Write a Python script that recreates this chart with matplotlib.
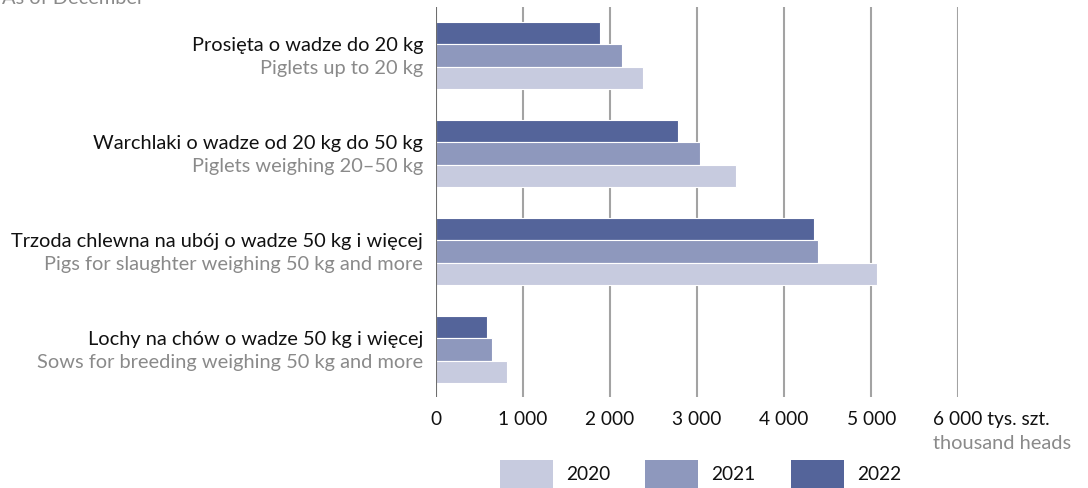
import numpy as np
import matplotlib
matplotlib.use('Agg')
import matplotlib.pyplot as plt
from matplotlib.patches import Rectangle

plt.rcParams['font.family'] = ['Lato', 'DejaVu Sans']

# data (thousand heads)
labels_pl = ['Prosięta o wadze do 20 kg',
             'Warchlaki o wadze od 20 kg do 50 kg',
             'Trzoda chlewna na ubój o wadze 50 kg i więcej',
             'Lochy na chów o wadze 50 kg i więcej']
labels_en = ['Piglets up to 20 kg',
             'Piglets weighing 20–50 kg',
             'Pigs for slaughter weighing 50 kg and more',
             'Sows for breeding weighing 50 kg and more']
years = ['2020', '2021', '2022']
v2020 = [2376, 3444, 5072, 815]
v2021 = [2143, 3038, 4386, 650]
v2022 = [1890, 2785, 4340, 590]
ticks = [0, 1000, 2000, 3000, 4000, 5000, 6000]
tick_labels = ['0', '1 000', '2 000', '3 000', '4 000', '5 000', '6 000']

colors = {'2020': '#c7cbdf', '2021': '#8e98bd', '2022': '#54649a'}

W, H = 1088, 489
fig = plt.figure(figsize=(W/100, H/100), dpi=100)
ax = fig.add_axes([435.7/W, 1-398/H, 522.6/W, 390/H])

y = np.arange(len(labels_pl))
h = 0.228
ax.barh(y - h, v2022, height=h, color=colors['2022'], edgecolor='white', linewidth=0.8, zorder=3)
ax.barh(y, v2021, height=h, color=colors['2021'], edgecolor='white', linewidth=0.8, zorder=3)
ax.barh(y + h, v2020, height=h, color=colors['2020'], edgecolor='white', linewidth=0.8, zorder=3)

ax.set_xlim(0, 6000)
ax.set_ylim(3.485, -0.495)
for s in ['top', 'right', 'bottom', 'left']:
    ax.spines[s].set_visible(False)
for t in ticks[1:]:
    ax.axvline(t, color='#a3a3a3', lw=1.5, zorder=1)
ax.axvline(0, color='#6e6e6e', lw=1.5, zorder=4)

fs = 14.4
tfs = 13.8
ax.set_yticks([])
ax.set_xticks(ticks)
tl = tick_labels[:-1] + ['']
ax.set_xticklabels(tl, fontsize=tfs, color='#111111')
ax.tick_params(axis='x', length=0, pad=9.5)
ax.annotate('6 000 tys. szt.', xy=(6000, 0), xycoords=('data', 'axes fraction'),
            xytext=(-18, -15.5), textcoords='offset points', ha='left', va='center',
            fontsize=tfs, color='#111111', annotation_clip=False)
ax.annotate('thousand heads', xy=(6000, 0), xycoords=('data', 'axes fraction'),
            xytext=(-18, -32.5), textcoords='offset points', ha='left', va='center',
            fontsize=fs, color='#8a8a8a', annotation_clip=False)

for i in range(len(labels_pl)):
    ax.annotate(labels_pl[i], xy=(0, i), xytext=(-9, 7.8), textcoords='offset points',
                ha='right', va='center', fontsize=fs, color='#111111', annotation_clip=False)
    ax.annotate(labels_en[i], xy=(0, i), xytext=(-9, -8.3), textcoords='offset points',
                ha='right', va='center', fontsize=fs, color='#8a8a8a', annotation_clip=False)

fig.text(2/W, 1+1/H, 'As of December', ha='left', va='center', fontsize=fs, color='#8a8a8a')

# legend
leg_x = [500, 645, 791]
for yr, lx in zip(years, leg_x):
    fig.add_artist(Rectangle((lx/W, 0), 53/W, 28/H, transform=fig.transFigure,
                             facecolor=colors[yr], edgecolor='none'))
    fig.text((lx+66)/W, 1-475/H, yr, ha='left', va='center', fontsize=tfs, color='#111111')

fig.savefig('out.png', dpi=100)
